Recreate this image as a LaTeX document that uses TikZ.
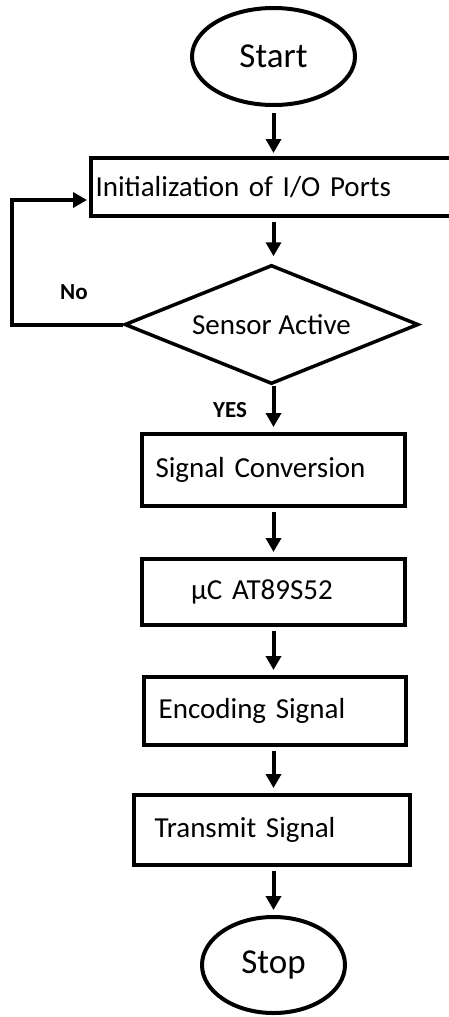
\documentclass[tikz,border=0pt]{standalone}
\usepackage{fontspec}
\setmainfont{Carlito}
\usetikzlibrary{shapes.geometric,arrows.meta}

\begin{document}
\begin{tikzpicture}[x=1pt,y=-1pt,
    flow/.style={line width=4pt},
    term/.style={flow, draw, ellipse, inner sep=0pt, font=\fontsize{35pt}{40pt}\selectfont},
    proc/.style={flow, draw, rectangle, inner ysep=0pt, align=left, font=\fontsize{29pt}{34pt}\selectfont},
    dec/.style={flow, line width=3.5pt, draw, diamond, aspect=2.4, inner sep=0pt, font=\fontsize{29pt}{34pt}\selectfont},
    arr/.style={flow, -{Triangle[length=14pt,width=15pt]}, shorten <=4pt, shorten >=5pt},
    note/.style={font=\bfseries\fontsize{23pt}{26pt}\selectfont}]

    \useasboundingbox (0,0) rectangle (449,1017);

    % ノードの定義
    \node[term, minimum width=163pt, minimum height=97pt] (start) at (273.5,56.5) {Start};
    \node[proc, minimum height=58pt, text width=360pt, inner xsep=4.5pt] (init) at (275.5,187) {Initialization of I/O Ports};
    \node[dec, minimum width=294pt, minimum height=119pt] (sense) at (271.5,324.5) {Sensor Active};
    \node[proc, minimum height=72pt, text width=236pt, inner xsep=13.5pt] (conv) at (273.5,470) {Signal Conversion};
    \node[proc, minimum height=66pt, text width=165pt, inner xsep=49pt] (mcu) at (273.5,592) {μC AT89S52};
    \node[proc, minimum height=68pt, text width=232.6pt, inner xsep=14.7pt] (enc) at (275,711) {Encoding Signal};
    \node[proc, minimum height=70pt, text width=235pt, inner xsep=20.5pt] (tx) at (272,830) {Transmit Signal};
    \node[term, minimum width=143pt, minimum height=96pt] (stop) at (273.5,965) {Stop};

    % ラベル
    \node[note] (no) at (74,292) {No};
    \node[note] (yes) at (230,410) {YES};

    % 矢印の描画
    \draw[arr, shorten <=6pt, shorten >=3pt] (start.south) -- (init.north -| start);
    \draw[arr, shorten >=7pt] (init.south -| start) -- (sense.north -| start);
    \draw[arr, shorten <=0pt] (sense.south -| start) -- (conv.north -| start);
    \draw[arr] (conv.south -| start) -- (mcu.north -| start);
    \draw[arr] (mcu.south -| start) -- (enc.north -| start);
    \draw[arr] (enc.south -| start) -- (tx.north -| start);
    \draw[arr] (tx.south -| start) -- (stop.north);

    % No のループ
    \coordinate (back) at (12,200);
    \draw[arr, shorten <=0pt, shorten >=2pt] (sense.west) -- (sense.west -| back) -- (back) -- (back -| init.west);

\end{tikzpicture}
\end{document}
